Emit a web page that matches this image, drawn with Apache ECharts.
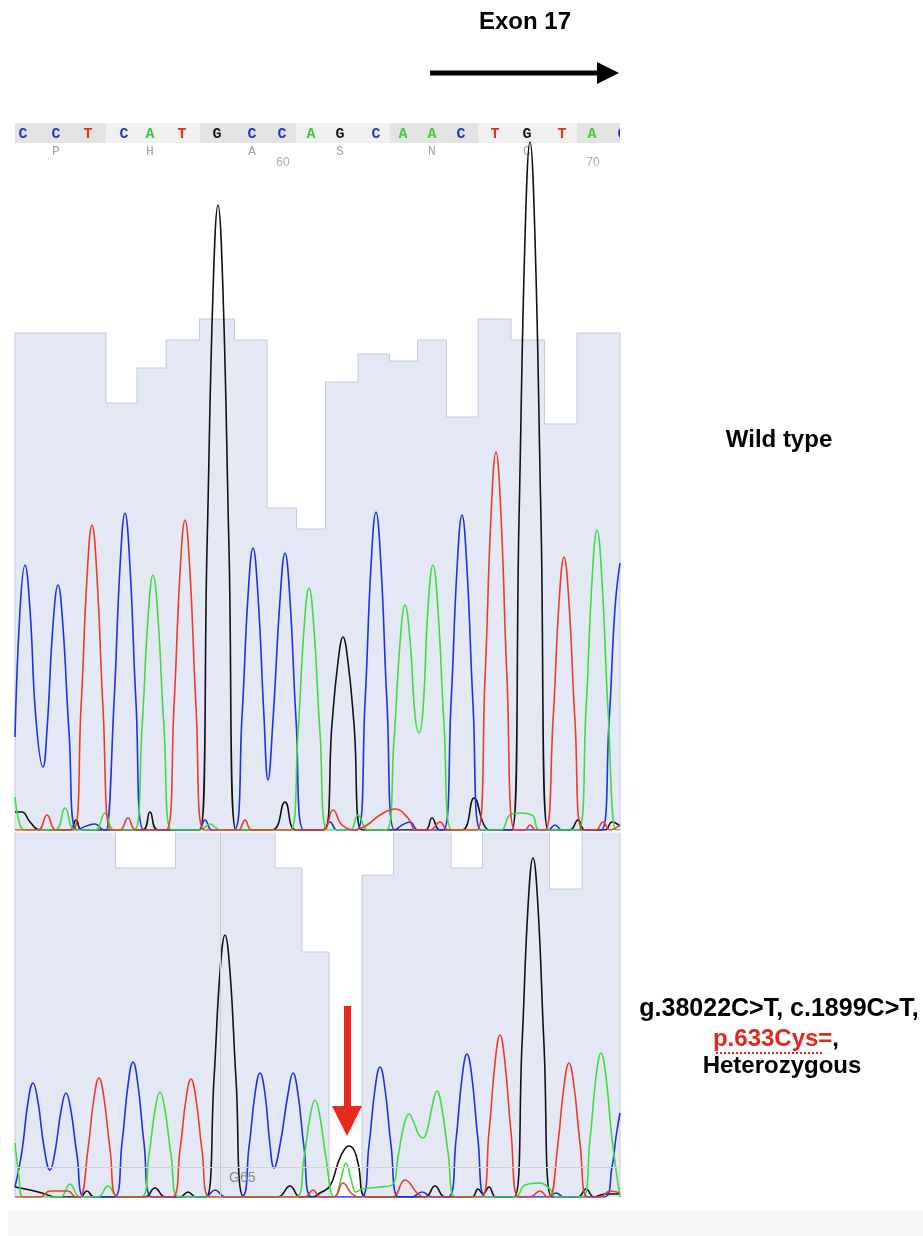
<!DOCTYPE html>
<html><head><meta charset="utf-8">
<script src="https://cdn.jsdelivr.net/npm/echarts@6/dist/echarts.min.js"></script>
<style>html,body{margin:0;padding:0;background:#fff}#c{width:923px;height:1236px}</style>
</head><body><div id="c"></div>
<script>
// ---------- DATA (scan units along x, signal intensity along y) ----------
const bases = ['C','C','T','C','A','T','G','C','C','A','G','C','A','A','C','T','G','T','A','C'];
const basePos = [8,41,73,109,135,167,202,237,267,296,325,361,388,417,446,480,512,547,577,607];
const firstBaseNumber = 52;
const aminoAcids = ['P','H','A','S','N','C'];
const wtQuality = [71,71,71,61,66,70,73,70,46,43,64,68,67,70,59,73,70,58,71,71];

const hetBasePos = [18,51,83,118,145,176,210,243,277,297,331,363,394,422,450,485,518,551,583];
const hetQuality = [60,60,60,47,47,60,60,60,47,35,0,46,60,60,47,60,60,44,60];

// wild type traces
const wtC = [[0,93],[5,220],[10,265],[15,220],[21,110],[28,63],[32,100],[38,205],[43,245],[48,203],[54,98],[62,0],[80,6],[89,0],
  [91,0],[99,127],[105,263],[110,317],[115,263],[121,127],[129,0],[183,0],[190,10],[197,0],
  [219,0],[227,113],[233,234],[238,282],[243,234],[249,113],[253,50],[258,110],[265,230],[270,277],[275,230],[281,111],[289,0],
  [307,0],[315,8],[322,0],[342,0],[350,127],[356,264],[361,318],[366,264],[372,127],[380,0],[395,8],[403,0],
  [428,0],[436,126],[442,261],[447,315],[452,261],[458,126],[466,0],[533,0],[540,5],[547,0],
  [586,0],[594,107],[600,222],[605,267]];
const wtT = [[0,0],[23,0],[32,15],[41,0],[58,0],[66,122],[72,253],[77,305],[82,253],[88,122],[96,0],
  [105,0],[113,12],[121,0],[151,0],[159,124],[165,257],[170,310],[175,257],[181,124],[189,0],
  [223,0],[230,10],[237,0],[307,0],[318,20],[327,5],[340,0],[352,5],[365,15],[380,21],[393,12],[401,0],[415,0],[425,8],[433,0],
  [462,0],[470,151],[476,314],[481,378],[486,314],[492,151],[500,0],[510,0],[515,5],[521,0],
  [530,0],[538,109],[544,227],[549,273],[554,227],[560,109],[568,0],[581,0],[588,8],[595,0],[605,5]];
const wtA = [[0,33],[5,5],[10,0],[40,0],[50,22],[60,0],[80,0],[90,17],[99,0],
  [119,0],[127,102],[133,212],[138,255],[143,212],[149,102],[157,0],[185,0],[195,6],[205,0],
  [275,0],[283,97],[289,201],[294,242],[299,201],[305,97],[313,0],[335,0],[343,15],[353,0],
  [371,0],[379,90],[385,187],[390,225],[395,190],[400,115],[404,97],[408,120],[413,222],[418,265],[423,220],[429,106],[437,0],
  [485,0],[495,15],[505,17],[517,15],[525,0],
  [563,0],[571,120],[577,249],[582,300],[587,249],[593,120],[601,0],[605,0]];
const wtG = [[0,18],[7,18],[15,8],[25,0],[55,0],[61,10],[67,0],[127,0],[135,18],[143,0],
  [185,0],[192,281],[198,538],[203,625],[208,538],[214,281],[221,0],[257,0],[270,28],[281,0],
  [309,0],[317,106],[323,168],[328,193],[333,168],[339,106],[347,0],
  [410,0],[417,12],[425,0],[447,0],[459,32],[469,5],[475,0],
  [497,0],[504,310],[510,592],[515,688],[520,592],[526,310],[533,0],[555,0],[563,10],[570,0],[590,0],[597,8],[605,4]];

// heterozygous traces
const hetC = [[0,10],[7,46],[13,95],[18,114],[23,95],[29,50],[35,27],[40,45],[46,86],[51,104],[56,86],[62,42],[70,0],
  [99,0],[107,54],[113,112],[118,135],[123,112],[129,54],[137,0],[190,0],[200,7],[210,0],
  [226,0],[234,50],[240,103],[245,124],[250,103],[255,52],[259,29],[265,52],[273,103],[278,124],[283,103],[289,50],[297,0],
  [346,0],[354,52],[360,108],[365,130],[370,108],[376,52],[384,0],[397,0],[407,5],[417,0],
  [433,0],[441,57],[447,119],[452,143],[457,119],[463,57],[471,0],[533,0],[541,4],[549,0],
  [589,0],[597,30],[601,60],[605,84]];
const hetT = [[0,0],[25,0],[35,6],[53,6],[61,0],[65,0],[73,48],[79,99],[84,119],[89,99],[95,48],[103,0],
  [157,0],[165,47],[171,98],[176,118],[181,98],[187,47],[195,0],
  [290,0],[298,7],[305,0],[319,0],[328,14],[337,3],[345,0],[377,0],[390,17],[403,3],[410,0],
  [466,0],[474,65],[480,134],[485,162],[490,134],[496,65],[504,0],[515,0],[525,6],[533,0],
  [535,0],[543,54],[549,111],[554,134],[559,111],[565,54],[573,0],[585,0],[595,6],[605,4]];
const hetA = [[0,54],[4,20],[8,0],[45,0],[55,13],[65,0],[83,0],[93,11],[103,0],
  [126,0],[134,42],[140,87],[145,105],[150,87],[156,42],[164,0],
  [281,0],[289,39],[295,80],[300,97],[305,80],[311,39],[319,0],
  [322,3],[326,18],[331,34],[336,18],[341,5],[347,8],[365,10],[377,12],
  [383,40],[389,72],[394,83],[399,74],[404,62],[408,59],[412,66],[417,90],[422,106],[427,88],[433,45],[441,0],
  [500,0],[510,12],[525,14],[535,8],[541,0],
  [567,0],[575,58],[581,120],[586,144],[591,120],[597,58],[605,0]];
const hetG = [[0,10],[15,7],[30,3],[40,0],[65,0],[72,6],[79,0],[130,0],[140,9],[150,0],[165,0],[173,5],[181,0],
  [191,0],[199,118],[205,225],[210,262],[215,225],[221,118],[229,0],
  [263,0],[275,11],[285,0],[297,0],[305,4],[315,11],[323,34],[329,47],[334,51],[339,47],[343,34],[352,0],
  [410,0],[420,11],[430,0],[457,0],[463,8],[468,3],[474,10],[481,0],
  [499,0],[507,152],[513,290],[518,339],[523,290],[529,152],[537,0],[563,0],[571,8],[579,0],[590,3],[605,3]];

const cursorScan = 205;      // G65 cursor
const cursorLabel = 'G65';
const thresholdLevel = 30;
const hetSitePos = 332;
const arrowFrom = 191, arrowTo = 76;

// ---------- helpers ----------
const SCAN_MIN = 0, SCAN_MAX = 605;
const colors = {A:'#3fde3f', C:'#1e30e4', G:'#111111', T:'#f03a26'};
const letterColors = {A:'#3ccc3c', C:'#2233cc', G:'#111111', T:'#e03322'};

function boundaries(pos){
  return pos.map((p,i)=>[
    i===0 ? SCAN_MIN : (pos[i-1]+p)/2,
    i===pos.length-1 ? SCAN_MAX : Math.min(SCAN_MAX,(p+pos[i+1])/2)
  ]);
}
function qualitySteps(pos,q){
  const b = boundaries(pos);
  const pts = [[SCAN_MIN,0]];
  b.forEach((r,i)=>{ if(r[0] < SCAN_MAX) pts.push([r[0],q[i]],[Math.min(r[1],SCAN_MAX),q[i]]);});
  pts.push([SCAN_MAX,0]);
  return pts;
}
const wtBounds = boundaries(basePos);
const codons = [];
for(let k=0;k*3<bases.length;k++){
  const s = wtBounds[k*3][0];
  const e = Math.min(SCAN_MAX, wtBounds[Math.min(k*3+2,bases.length-1)][1]);
  codons.push([s,e,k]);
}

const chart = echarts.init(document.getElementById('c'), null, {renderer:'canvas'});

function trace(data, ch, xi, yi){
  return {type:'line', data, xAxisIndex:xi, yAxisIndex:yi, showSymbol:false, smooth:0.45,
    lineStyle:{color:colors[ch], width:1.6}, itemStyle:{color:colors[ch]}, z:4, silent:true, animation:false, clip:true};
}
function quality(data, xi, yi){
  return {type:'line', data, xAxisIndex:xi, yAxisIndex:yi, showSymbol:false,
    lineStyle:{color:'#c3cadf', width:1}, areaStyle:{color:'#e3e8f4', opacity:1},
    z:2, silent:true, animation:false, clip:true};
}

const hiddenX = gi => ({type:'value', gridIndex:gi, min:SCAN_MIN, max:SCAN_MAX, show:false});
const hiddenY = (gi,max) => ({type:'value', gridIndex:gi, min:0, max:max, show:false});

const option = {
  animation:false,
  backgroundColor:'#ffffff',
  grid:[
    {left:15, top:123, width:605, height:20},
    {left:15, top:130, width:605, height:700},
    {left:15, top:833, width:605, height:364}
  ],
  xAxis:[hiddenX(0), hiddenX(1), hiddenX(2)],
  yAxis:[hiddenY(0,1), hiddenY(1,700), hiddenY(1,100), hiddenY(2,364), hiddenY(2,52)],
  series:[
    {type:'custom', xAxisIndex:0, yAxisIndex:0, data:codons, z:1, silent:true,
      encode:{x:[0,1]},
      renderItem:(params, api)=>{
        const s = api.coord([api.value(0),1]);
        const e = api.coord([api.value(1),0]);
        return {type:'rect', shape:{x:s[0], y:s[1], width:e[0]-s[0], height:e[1]-s[1]},
          style:{fill: api.value(2)%2 ? '#f0f0f0' : '#e3e3e3'}};
      }},
    {type:'custom', xAxisIndex:0, yAxisIndex:0, z:3, silent:true, clip:true,
      data: bases.map((b,i)=>[basePos[i], i]), encode:{x:0},
      renderItem:(params, api)=>{
        const p = api.coord([api.value(0),0.5]);
        const b = bases[api.value(1)];
        return {type:'text', x:p[0], y:p[1]+1, style:{text:b, fill:letterColors[b],
          font:'bold 15px "Liberation Mono"', align:'center', verticalAlign:'middle'}};
      }},
    {type:'scatter', xAxisIndex:0, yAxisIndex:0, symbolSize:1, itemStyle:{color:'rgba(0,0,0,0)'}, z:3, silent:true,
      data: aminoAcids.map((a,k)=>({value:[basePos[k*3+1],0.5],
        label:{show:true, position:'inside', offset:[0,19], formatter:a, color:'#8c8c8c',
          fontFamily:'Liberation Mono', fontSize:13}}))},
    {type:'scatter', xAxisIndex:0, yAxisIndex:0, symbolSize:1, itemStyle:{color:'rgba(0,0,0,0)'}, z:3, silent:true,
      data: basePos.map((p,i)=>({n:firstBaseNumber+i, p})).filter(o=>o.n%10===0).map(o=>({value:[o.p,0.5],
        label:{show:true, position:'inside', offset:[1,30], formatter:String(o.n), color:'#9a9a9a',
          fontFamily:'Liberation Sans', fontSize:12}}))},

    quality(qualitySteps(basePos, wtQuality), 1, 2),
    trace(wtG,'G',1,1), trace(wtC,'C',1,1), trace(wtA,'A',1,1), trace(wtT,'T',1,1),

    quality(qualitySteps(hetBasePos, hetQuality), 2, 4),
    Object.assign(trace(hetG,'G',2,3), {markLine:{silent:true, symbol:['none','none'], animation:false,
      label:{show:false},
      data:[{xAxis:cursorScan, lineStyle:{color:'#c9c9c9', width:1, type:'solid'}},
            {yAxis:thresholdLevel, lineStyle:{color:'#d2d2d2', width:1, type:'solid'}}]}}),
    trace(hetC,'C',2,3), trace(hetA,'A',2,3),
    Object.assign(trace(hetT,'T',2,3), {markLine:{silent:true, animation:false, label:{show:false},
      symbol:['none','triangle'], symbolSize:30,
      lineStyle:{color:'#e8291c', width:7, type:'solid'}, itemStyle:{color:'#e8291c'},
      data:[[{coord:[hetSitePos,arrowFrom]},{coord:[hetSitePos,arrowTo]}]]},
      markPoint:{silent:true, animation:false, symbolSize:0,
      data:[{coord:[cursorScan,19], label:{show:true, position:'right', offset:[4,0], formatter:cursorLabel,
        color:'#8a8a8a', fontFamily:'Liberation Sans', fontSize:14}}]}})
  ],
  graphic:[
    {type:'rect', shape:{x:8, y:1211, width:915, height:25}, style:{fill:'#f6f6f7'}},
    {type:'text', x:525, y:22, style:{text:'Exon 17', fill:'#000', font:'bold 24px "Liberation Sans"', align:'center', verticalAlign:'middle'}},
    {type:'line', shape:{x1:430, y1:73, x2:600, y2:73}, style:{stroke:'#000', lineWidth:5}},
    {type:'polygon', shape:{points:[[597,62],[619,73],[597,84]]}, style:{fill:'#000'}},
    {type:'text', x:779, y:440, style:{text:'Wild type', fill:'#000', font:'bold 24px "Liberation Sans"', align:'center', verticalAlign:'middle'}},
    {type:'text', x:779, y:1009, style:{text:'g.38022C>T, c.1899C>T,', fill:'#000', font:'bold 25px "Liberation Sans"', align:'center', verticalAlign:'middle'}},
    {type:'text', x:776, y:1039, style:{text:'{r|p.633Cys=}{k|,}', align:'center', verticalAlign:'middle',
      rich:{r:{fill:'#e5261b', font:'bold 24px "Liberation Sans"'}, k:{fill:'#000', font:'bold 24px "Liberation Sans"'}}}},
    {type:'line', shape:{x1:716, y1:1053, x2:822, y2:1053}, style:{stroke:'#e5261b', lineWidth:2, lineDash:[2,2]}},
    {type:'text', x:782, y:1066, style:{text:'Heterozygous', fill:'#000', font:'bold 24px "Liberation Sans"', align:'center', verticalAlign:'middle'}}
  ]
};
chart.setOption(option);
</script></body></html>
